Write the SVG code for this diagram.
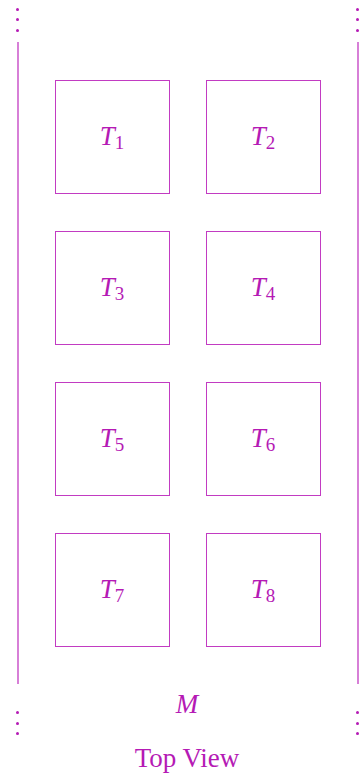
<svg xmlns="http://www.w3.org/2000/svg" width="361" height="776" viewBox="0 0 361 776">
<style>
.box{fill:none;stroke:#c23bc2;stroke-width:1}
.wall{stroke:#c23bc2;stroke-width:1.3}
.lbl{font-family:"Liberation Serif",serif;font-size:27px;fill:#b51ab5;text-anchor:middle}
.it{font-style:italic}
.dot{fill:#b51ab5}
</style>
<rect width="361" height="776" fill="#fff"/>
<g id="walls">
<line class="wall" x1="18" y1="42" x2="18" y2="684"/>
<line class="wall" x1="358" y1="42" x2="358" y2="684"/>
<circle class="dot" cx="17.5" cy="9.5" r="1.5"/><circle class="dot" cx="17.5" cy="19.5" r="1.5"/><circle class="dot" cx="17.5" cy="30.5" r="1.5"/>
<circle class="dot" cx="357.5" cy="9.5" r="1.5"/><circle class="dot" cx="357.5" cy="19.5" r="1.5"/><circle class="dot" cx="357.5" cy="30.5" r="1.5"/>
<circle class="dot" cx="17.5" cy="712.5" r="1.5"/><circle class="dot" cx="17.5" cy="723.5" r="1.5"/><circle class="dot" cx="17.5" cy="733.5" r="1.5"/>
<circle class="dot" cx="357.5" cy="712.5" r="1.5"/><circle class="dot" cx="357.5" cy="723.5" r="1.5"/><circle class="dot" cx="357.5" cy="733.5" r="1.5"/>
</g>
<g id="connectors"></g>
<g id="T1"><rect class="box" x="55.5" y="80.5" width="114" height="113"/><text class="lbl" x="112" y="145"><tspan class="it">T</tspan><tspan font-size="19" dy="4">1</tspan></text></g>
<g id="T2"><rect class="box" x="206.5" y="80.5" width="114" height="113"/><text class="lbl" x="263" y="145"><tspan class="it">T</tspan><tspan font-size="19" dy="4">2</tspan></text></g>
<g id="T3"><rect class="box" x="55.5" y="231.5" width="114" height="113"/><text class="lbl" x="112" y="296"><tspan class="it">T</tspan><tspan font-size="19" dy="4">3</tspan></text></g>
<g id="T4"><rect class="box" x="206.5" y="231.5" width="114" height="113"/><text class="lbl" x="263" y="296"><tspan class="it">T</tspan><tspan font-size="19" dy="4">4</tspan></text></g>
<g id="T5"><rect class="box" x="55.5" y="382.5" width="114" height="113"/><text class="lbl" x="112" y="447"><tspan class="it">T</tspan><tspan font-size="19" dy="4">5</tspan></text></g>
<g id="T6"><rect class="box" x="206.5" y="382.5" width="114" height="113"/><text class="lbl" x="263" y="447"><tspan class="it">T</tspan><tspan font-size="19" dy="4">6</tspan></text></g>
<g id="T7"><rect class="box" x="55.5" y="533.5" width="114" height="113"/><text class="lbl" x="112" y="598"><tspan class="it">T</tspan><tspan font-size="19" dy="4">7</tspan></text></g>
<g id="T8"><rect class="box" x="206.5" y="533.5" width="114" height="113"/><text class="lbl" x="263" y="598"><tspan class="it">T</tspan><tspan font-size="19" dy="4">8</tspan></text></g>
<g id="M"><text class="lbl it" x="187" y="713">M</text></g>
<g id="caption"><text class="lbl" x="187" y="767" font-size="30">Top View</text></g>
</svg>
